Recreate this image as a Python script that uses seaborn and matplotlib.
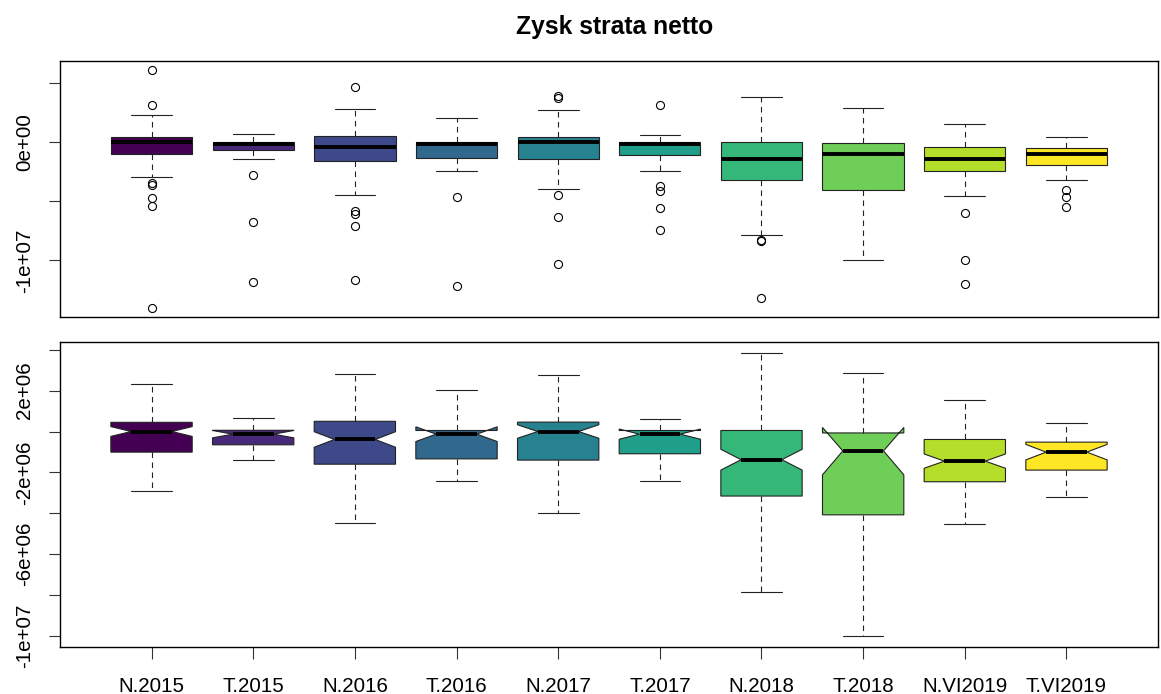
import numpy as np
import matplotlib
matplotlib.use("Agg")
import matplotlib.pyplot as plt
import seaborn as sns

# 数据 (单位: 1e6)
groups = ['N.2015', 'T.2015', 'N.2016', 'T.2016', 'N.2017',
          'T.2017', 'N.2018', 'T.2018', 'N.VI2019', 'T.VI2019']
whislo = [-2.90, -1.38, -4.46, -2.40, -3.98, -2.40, -7.85, -10.00, -4.53, -3.21]
q1 = [-1.01, -0.65, -1.60, -1.34, -1.40, -1.09, -3.16, -4.08, -2.46, -1.89]
med = [0.00, -0.13, -0.39, -0.13, 0.00, -0.13, -1.38, -0.95, -1.45, -1.01]
q3 = [0.45, 0.06, 0.50, 0.05, 0.46, 0.05, 0.05, -0.07, -0.39, -0.52]
whishi = [2.31, 0.68, 2.82, 2.05, 2.75, 0.62, 3.83, 2.88, 1.56, 0.44]
cilo = [-0.24, -0.31, -0.77, -0.49, -0.33, -0.38, -1.89, -2.12, -1.80, -1.39]
cihi = [0.24, 0.05, -0.01, 0.23, 0.33, 0.12, -0.87, 0.20, -1.10, -0.63]
outliers = [
    [6.09, 3.16, -3.41, -3.58, -4.73, -5.36, -14.0],
    [-2.73, -6.73, -11.83],
    [4.68, -5.86, -6.11, -7.07, -11.63],
    [-4.67, -12.17],
    [3.95, 3.80, -4.45, -6.31, -10.31],
    [3.16, -3.69, -4.14, -5.55, -7.41],
    [-8.31, -8.37, -13.16],
    [],
    [-6.0, -10.0, -11.97],
    [-4.08, -4.67, -5.44],
]

top_ticks = [-1e7, -5e6, 0, 5e6]
top_labels = ['-1e+07', '', '0e+00', '']
bottom_ticks = [-1e7, -8e6, -6e6, -4e6, -2e6, 0, 2e6, 4e6]
bottom_labels = ['-1e+07', '', '-6e+06', '', '-2e+06', '', '2e+06', '']

sns.set_style("white")
plt.rcParams['font.family'] = ['Liberation Sans', 'DejaVu Sans']
plt.rcParams['text.color'] = 'black'
plt.rcParams['xtick.color'] = '#333333'
plt.rcParams['ytick.color'] = '#333333'
plt.rcParams['xtick.labelcolor'] = 'black'
plt.rcParams['ytick.labelcolor'] = 'black'

cmap = sns.color_palette("viridis", as_cmap=True)
colors = [cmap(i / (len(groups) - 1)) for i in range(len(groups))]

FS = 14.8
positions = np.arange(1, len(groups) + 1)


def build_stats(with_fliers):
    stats = []
    for i, g in enumerate(groups):
        s = dict(label=g,
                 whislo=whislo[i] * 1e6, q1=q1[i] * 1e6, med=med[i] * 1e6,
                 q3=q3[i] * 1e6, whishi=whishi[i] * 1e6,
                 cilo=cilo[i] * 1e6, cihi=cihi[i] * 1e6,
                 fliers=np.array(outliers[i]) * 1e6 if with_fliers else np.array([]))
        stats.append(s)
    return stats


def draw(ax, stats, notch):
    bp = ax.bxp(stats, positions=positions, widths=0.8, capwidths=0.4,
                shownotches=notch, showfliers=True, patch_artist=True,
                boxprops=dict(edgecolor='#222222', linewidth=0.8),
                medianprops=dict(color='black', linewidth=2.8, solid_capstyle='butt'),
                whiskerprops=dict(color='#222222', linewidth=0.8, linestyle=(0, (5, 4))),
                capprops=dict(color='#222222', linewidth=0.8),
                flierprops=dict(marker='o', markersize=5.8, markerfacecolor='none',
                                markeredgecolor='black', markeredgewidth=0.8))
    for patch, c in zip(bp['boxes'], colors):
        patch.set_facecolor(c)
    # y 轴范围 (R 风格 4% 扩展)
    vals = []
    for s in stats:
        vals += [s['whislo'], s['whishi'], s['cilo'], s['cihi']] if notch else [s['whislo'], s['whishi']]
        vals += list(s['fliers'])
    lo, hi = min(vals), max(vals)
    pad = (hi - lo) * 0.04
    ax.set_ylim(lo - pad, hi + pad)
    ax.set_xlim(0.1, len(groups) + 0.9)
    for sp in ax.spines.values():
        sp.set_visible(True)
        sp.set_color('black')
        sp.set_linewidth(1.0)


fig = plt.figure(figsize=(11.61, 6.94), dpi=100)
ax1 = fig.add_axes([0.0517, 0.5432, 0.9457, 0.3689])
ax2 = fig.add_axes([0.0517, 0.0677, 0.9457, 0.4395])

draw(ax1, build_stats(True), notch=False)
draw(ax2, build_stats(False), notch=True)

# 上图: 无 x 轴
ax1.set_xticks([])
ax1.set_yticks(top_ticks)
ax1.set_yticklabels(top_labels)

ax2.set_xticks(positions)
ax2.set_xticklabels(groups)
ax2.set_yticks(bottom_ticks)
ax2.set_yticklabels(bottom_labels)

for ax in (ax1, ax2):
    ax.tick_params(axis='y', direction='out', length=8, width=0.8, pad=10.5,
                   labelsize=FS, left=True, labelrotation=90)
    plt.setp(ax.get_yticklabels(), va='center')
ax2.tick_params(axis='x', direction='out', length=8.6, width=0.8, pad=13,
                labelsize=FS, bottom=True)

fig.text(0.529, 0.961, 'Zysk strata netto', ha='center', va='center',
         fontsize=17.7, fontweight='bold')

fig.savefig('out.png', dpi=100)
plt.close(fig)
